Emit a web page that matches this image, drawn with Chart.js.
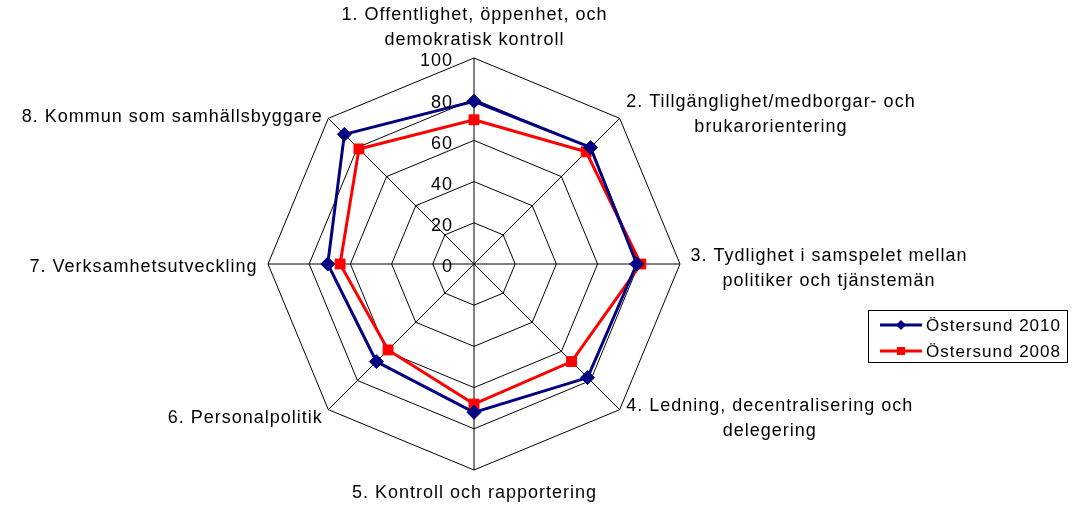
<!DOCTYPE html>
<html>
<head>
<meta charset="utf-8">
<script src="https://cdn.jsdelivr.net/npm/chart.js@4/dist/chart.umd.min.js"></script>
<style>
  body { margin: 0; background: #fff; }
  #wrap { width: 1072px; height: 508px; }
</style>
</head>
<body>
<div id="wrap"><canvas id="radarChart" width="1072" height="508"></canvas></div>
<script>
const categories = [
    ['1. Offentlighet, öppenhet, och', 'demokratisk kontroll'],
    ['2. Tillgänglighet/medborgar- och', 'brukarorientering'],
    ['3. Tydlighet i samspelet mellan', 'politiker och tjänstemän'],
    ['4. Ledning, decentralisering och', 'delegering'],
    ['5. Kontroll och rapportering'],
    ['6. Personalpolitik'],
    ['7. Verksamhetsutveckling'],
    ['8. Kommun som samhällsbyggare']
];
const seriesNames = ['Östersund 2010', 'Östersund 2008'];
const values2010 = [79, 80, 79, 78, 72, 67, 71, 89];
const values2008 = [70, 77, 81, 67, 68, 59, 65, 79];
const tickLabels = ['0', '20', '40', '60', '80', '100'];

// where each category label sits relative to its outer vertex
// [anchor, dx, dy of first line centre]
const labelLayout = [
    ['bottom', 0, -18],
    ['left', 6, -16],
    ['left', 10, -8],
    ['left', 6, -4],
    ['top', 0, 23],
    ['right', -6, 8],
    ['right', -11, 3],
    ['right', -6, -1]
];

const FONT = '18px "Liberation Sans", Arial, sans-serif';
const LINE_H = 25;

const labelsPlugin = {
    id: 'labelsPlugin',
    afterDraw(chart) {
        const ctx = chart.ctx;
        const scale = chart.scales.r;
        ctx.save();
        ctx.fillStyle = '#000';
        ctx.font = FONT;
        ctx.letterSpacing = '1px';
        ctx.textBaseline = 'middle';

        // tick labels
        scale.ticks.forEach((tick, i) => {
            const d = scale.getDistanceFromCenterForValue(tick.value);
            ctx.textAlign = 'right';
            ctx.fillText(tickLabels[i], scale.xCenter - 21, scale.yCenter - d + 3.5);
        });

        // category labels
        categories.forEach((lines, i) => {
            const p = scale.getPointPosition(i, scale.drawingArea);
            const [anchor, dx, dy] = labelLayout[i];
            const widths = lines.map(l => ctx.measureText(l).width);
            const maxW = Math.max(...widths);
            let cx;
            if (anchor === 'left') cx = p.x + dx + maxW / 2;
            else if (anchor === 'right') cx = p.x + dx - maxW / 2;
            else cx = p.x + dx;
            let y0 = p.y + dy;
            if (anchor === 'bottom') y0 = p.y + dy - (lines.length - 1) * LINE_H;
            ctx.textAlign = 'center';
            lines.forEach((l, k) => {
                ctx.fillText(l, cx + 0.5, y0 + k * LINE_H);
            });
        });

        // legend
        const bx = 868.5, by = 310.5, bw = 199, bh = 52;
        ctx.strokeStyle = '#000';
        ctx.lineWidth = 1;
        ctx.strokeRect(bx, by, bw, bh);
        ctx.font = '17px "Liberation Sans", Arial, sans-serif';
        ctx.textAlign = 'left';
        chart.data.datasets.forEach((ds, i) => {
            const y = 325 + i * 26;
            ctx.strokeStyle = ds.borderColor;
            ctx.lineWidth = 3;
            ctx.beginPath();
            ctx.moveTo(880, y);
            ctx.lineTo(922, y);
            ctx.stroke();
            ctx.fillStyle = ds.borderColor;
            if (ds.pointStyle === 'rectRot') {
                ctx.beginPath();
                ctx.moveTo(901, y - 5);
                ctx.lineTo(906, y);
                ctx.lineTo(901, y + 5);
                ctx.lineTo(896, y);
                ctx.closePath();
                ctx.fill();
            } else {
                ctx.fillRect(897, y - 4, 8, 8);
            }
            ctx.fillStyle = '#000';
            ctx.fillText(ds.label, 926, y + 1);
        });
        ctx.restore();
    }
};

const ctx = document.getElementById('radarChart').getContext('2d');
const chart = new Chart(ctx, {
    type: 'radar',
    data: {
        labels: categories.map(c => c.join(' ')),
        datasets: [
            {
                label: seriesNames[0],
                data: values2010,
                borderColor: '#000080',
                backgroundColor: '#000080',
                borderWidth: 3,
                fill: false,
                pointStyle: 'rectRot',
                pointRadius: 7,
                pointBorderWidth: 1,
                pointBackgroundColor: '#000080',
                pointBorderColor: '#000080'
            },
            {
                label: seriesNames[1],
                data: values2008,
                borderColor: '#ff0000',
                backgroundColor: '#ff0000',
                borderWidth: 3,
                fill: false,
                pointStyle: 'rect',
                pointRadius: 7,
                pointBorderWidth: 1,
                pointBackgroundColor: '#ff0000',
                pointBorderColor: '#ff0000'
            }
        ]
    },
    options: {
        responsive: false,
        animation: false,
        devicePixelRatio: 1,
        layout: {
            padding: { left: 268, right: 392, top: 58, bottom: 38 }
        },
        elements: {
            line: { tension: 0 }
        },
        scales: {
            r: {
                min: 0,
                max: 100,
                ticks: { stepSize: 20, display: false },
                pointLabels: { display: false },
                grid: { color: '#000', lineWidth: 1, circular: false },
                angleLines: { color: '#000', lineWidth: 1 }
            }
        },
        plugins: {
            legend: { display: false },
            tooltip: { enabled: false }
        }
    },
    plugins: [labelsPlugin]
});
</script>
</body>
</html>
